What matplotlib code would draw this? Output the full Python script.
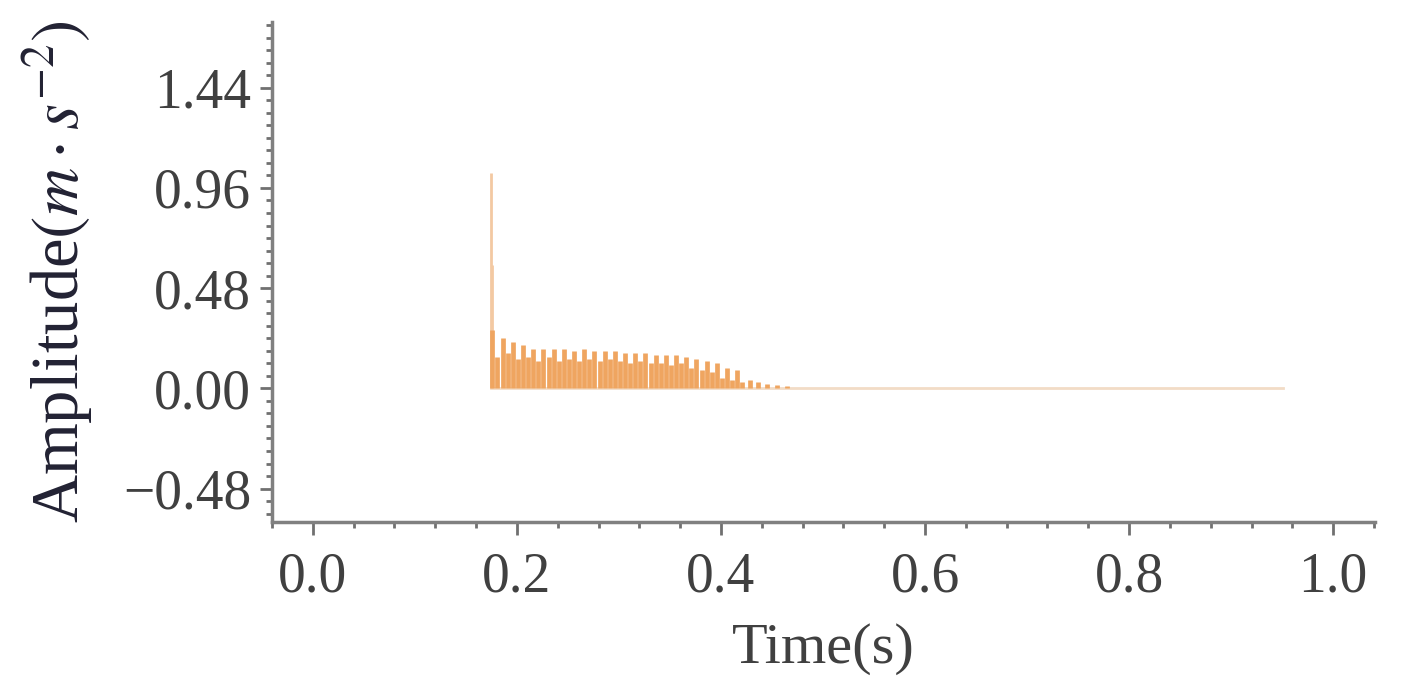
import matplotlib.pyplot as plt
from matplotlib.ticker import MultipleLocator

plt.rcParams['font.family'] = ['Liberation Serif', 'DejaVu Serif']
plt.rcParams['mathtext.fontset'] = 'stix'

# impact spike at the start of the record
spike_t = [0.175, 0.176]
spike_a = [1.03, 0.59]

# peaks of the ringing that follows
peak_t = [0.176, 0.181, 0.186, 0.191, 0.196, 0.201, 0.206, 0.211, 0.216, 0.221,
          0.226, 0.231, 0.236, 0.241, 0.246, 0.251, 0.256, 0.261, 0.266, 0.271,
          0.276, 0.281, 0.286, 0.291, 0.296, 0.301, 0.306, 0.311, 0.316, 0.321,
          0.326, 0.331, 0.336, 0.341, 0.346, 0.351, 0.356, 0.361, 0.366, 0.371,
          0.376, 0.381, 0.386, 0.391, 0.396, 0.401, 0.406, 0.411, 0.416, 0.421,
          0.428, 0.436, 0.445, 0.455, 0.465]
peak_a = [0.28, 0.15, 0.24, 0.17, 0.22, 0.14, 0.21, 0.15, 0.19, 0.13,
          0.19, 0.15, 0.19, 0.13, 0.19, 0.14, 0.18, 0.13, 0.19, 0.14,
          0.18, 0.13, 0.18, 0.14, 0.18, 0.13, 0.17, 0.12, 0.17, 0.13,
          0.17, 0.12, 0.16, 0.12, 0.16, 0.11, 0.16, 0.12, 0.15, 0.10,
          0.14, 0.09, 0.13, 0.08, 0.12, 0.05, 0.10, 0.04, 0.09, 0.03,
          0.04, 0.03, 0.02, 0.015, 0.01]

# flat tail of the record
tail_t = [0.175, 0.951]
tail_a = [0.0, 0.0]

fig = plt.figure(figsize=(14.02, 6.95), dpi=100)
ax = fig.add_axes([272 / 1402, 1 - 522 / 695, (1375 - 272) / 1402, (522 - 22) / 695])

ax.plot(tail_t, tail_a, color='#F2DCC6', lw=2)
ax.vlines(spike_t, 0, spike_a, color='#F3C9A2', lw=2)
ax.vlines(peak_t, 0, peak_a, color='#EFA560', lw=3.4)

ax.set_xlim(-0.04, 1.041)
ax.set_ylim(-0.64, 1.755)
ax.set_yticks([-0.48, 0.0, 0.48, 0.96, 1.44])
ax.set_yticklabels(['\u22120.48', '0.00', '0.48', '0.96', '1.44'])
ax.set_xticks([0.0, 0.2, 0.4, 0.6, 0.8, 1.0])
ax.set_xticklabels(['0.0', '0.2', '0.4', '0.6', '0.8', '1.0'])
ax.xaxis.set_minor_locator(MultipleLocator(0.04))
ax.yaxis.set_minor_locator(MultipleLocator(0.06))

for side in ['top', 'right']:
    ax.spines[side].set_visible(False)
for side in ['left', 'bottom']:
    ax.spines[side].set_color('#808080')
    ax.spines[side].set_linewidth(2.5)

ax.tick_params(which='major', length=9, width=2, color='#707070',
               labelsize=40, labelcolor='#404040')
ax.tick_params(which='minor', length=4, width=2, color='#707070')
ax.tick_params(axis='y', pad=6)
ax.tick_params(axis='x', pad=12)

ax.set_xlabel('Time(s)', fontsize=42, color='#404040', labelpad=14)
ax.set_ylabel(r'Amplitude$(m\cdot s^{-2})$', fontsize=48, color='#222233', labelpad=20)

fig.savefig('out.png', dpi=100)
